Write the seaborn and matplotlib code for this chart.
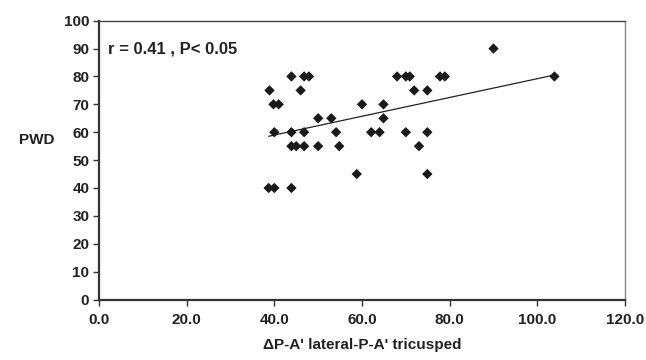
import matplotlib
matplotlib.use("Agg")
import matplotlib.pyplot as plt
import seaborn as sns
import numpy as np
import pandas as pd

# Data
delta_pa = [90.0,
            43.9, 46.8, 47.9, 68.0, 70.0, 70.9, 77.8, 78.9, 103.9,
            38.9, 46.0, 71.9, 74.9,
            39.8, 41.0, 60.0, 64.9,
            50.0, 53.0, 64.9,
            40.0, 43.9, 46.8, 54.1, 62.1, 64.0, 70.0, 74.9,
            43.9, 45.0, 46.8, 50.0, 54.8, 73.0,
            58.8, 74.9,
            38.7, 40.0, 43.9]
pwd = [90,
       80, 80, 80, 80, 80, 80, 80, 80, 80,
       75, 75, 75, 75,
       70, 70, 70, 70,
       65, 65, 65,
       60, 60, 60, 60, 60, 60, 60, 60,
       55, 55, 55, 55, 55, 55,
       45, 45,
       40, 40, 40]
x_ticks = [0, 20, 40, 60, 80, 100, 120]
y_ticks = [0, 10, 20, 30, 40, 50, 60, 70, 80, 90, 100]
annotation = "r = 0.41 , P< 0.05"

df = pd.DataFrame({"x": delta_pa, "y": pwd})

sns.set_style("white")
plt.rcParams["font.family"] = ["Liberation Sans", "DejaVu Sans"]
plt.rcParams["font.weight"] = "bold"

FS = 11
fig = plt.figure(figsize=(6.46, 3.6), dpi=100)
ax = fig.add_axes([99 / 646, 1 - 299.5 / 360, (625 - 99) / 646, (299.5 - 20.7) / 360])

sns.regplot(data=df, x="x", y="y", scatter=False, ci=None, ax=ax,
            line_kws=dict(color="#222222", lw=0.9))
sns.scatterplot(data=df, x="x", y="y", marker="D", s=28, color="#1a1a1a",
                edgecolor="none", ax=ax, zorder=3)

ax.set_xlim(0, 120)
ax.set_ylim(0, 100)
ax.set_xticks(x_ticks)
ax.set_xticklabels([f"{v:.1f}" for v in x_ticks], fontsize=FS, fontweight="bold", color="#222222")
ax.set_yticks(y_ticks)
ax.set_yticklabels([str(v) for v in y_ticks], fontsize=FS, fontweight="bold", color="#222222")
ax.tick_params(axis="both", direction="out", length=4, width=1, color="#333333", pad=3,
               bottom=True, left=True)
ax.tick_params(axis="x", pad=6)

ax.set_xlabel("\u0394P-A' lateral-P-A' tricusped", fontsize=FS, fontweight="bold",
              color="#222222", labelpad=8)
ax.set_ylabel("")
fig.text(19 / 646, 1 - 140 / 360, "PWD", fontsize=FS, fontweight="bold",
         color="#222222", va="center", ha="left")

ax.text(108 / 646, 1 - 49 / 360, annotation, transform=fig.transFigure,
        fontsize=12, fontweight="bold", color="#222222", va="center", ha="left")

for side in ["left", "bottom"]:
    ax.spines[side].set_color("#333333")
    ax.spines[side].set_linewidth(1.6)
for side in ["top", "right"]:
    ax.spines[side].set_visible(True)
    ax.spines[side].set_color("#444444")
    ax.spines[side].set_linewidth(1.0)
ax.spines["right"].set_color("#888888")

fig.savefig("out.png", dpi=100)
